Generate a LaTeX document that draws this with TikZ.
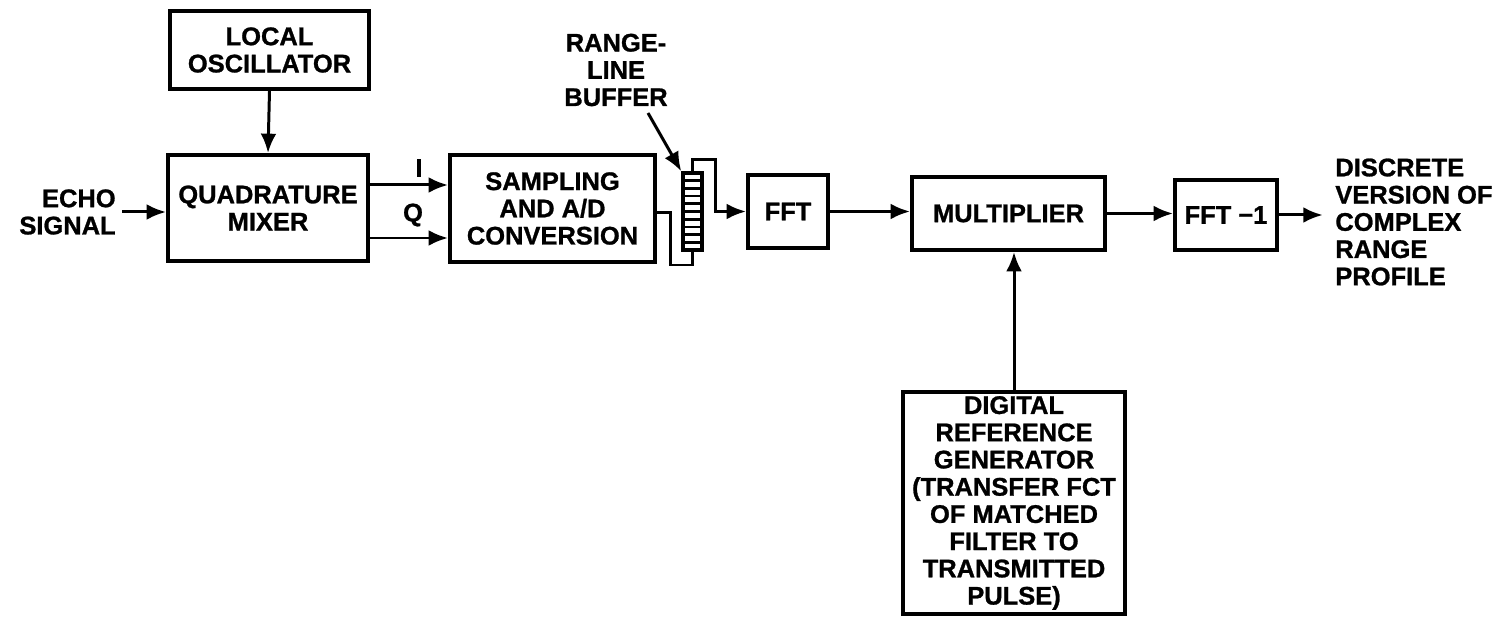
\documentclass[tikz,border=0pt]{standalone}
\usepackage{fontspec}
\newfontfamily\blkfont[FakeBold=1]{Liberation Sans Bold}
\usepackage{tikz}
\usetikzlibrary{arrows.meta}
\usetikzlibrary{positioning}
\newcommand{\blktext}{\blkfont\fontsize{14.5}{15.5}\selectfont}

\tikzset{
  blk/.style={draw, rectangle, line width=2.3pt, inner sep=0pt, align=center, font=\blktext},
  lbl/.style={inner sep=0pt, font=\blktext},
  arr/.style={->, line width=1.7pt},
  wire/.style={line width=1.7pt},
}

\begin{document}
\begin{tikzpicture}[x=0.02cm,y=-0.02cm]
		\tikzset{>={Latex[length=11pt,width=9pt]}}
		\useasboundingbox (0,0) rectangle (1505,617);
		
		\node[blk,minimum width=3.98cm,minimum height=1.56cm] (lo) at (269.5,50) {LOCAL\\OSCILLATOR};
		\node[blk,minimum width=4cm,minimum height=2.12cm] (qm) at (268,208) {QUADRATURE\\MIXER};
		\node[blk,minimum width=4.1cm,minimum height=2.14cm] (sad) at (552.5,208.5) {SAMPLING\\AND A/D\\CONVERSION};
		\node[draw,line width=2pt,fill=white,minimum width=0.38cm,minimum height=1.54cm,inner sep=0pt] (buffer) at (692.5,211.5) {};
		\node[blk,minimum width=1.6cm,minimum height=1.46cm] (fft) at (788,211.5) {FFT};
		\node[blk,minimum width=3.86cm,minimum height=1.46cm] (mult) at (1008.5,213.5) {MULTIPLIER};
		\node[blk,minimum width=2.04cm,minimum height=1.4cm] (ifft) at (1226,215) {FFT −1};
		\node[blk,minimum width=4.44cm,minimum height=4.44cm] (drg) at (1014,503) {DIGITAL\\REFERENCE\\GENERATOR\\(TRANSFER FCT\\OF MATCHED\\FILTER TO\\TRANSMITTED\\PULSE)};
		
		\node[lbl,align=right,anchor=east] (echo) at (116,212) {ECHO\\SIGNAL};
		\node[lbl,align=left,anchor=west] (out) at (1335,222) {DISCRETE\\VERSION OF\\COMPLEX\\RANGE\\PROFILE};
		\node[lbl,align=center] (rlb) at (616,70) {RANGE-\\LINE\\BUFFER};
		\node[lbl] (ilab) at (419,168) {I};
		\node[lbl] (qlab) at (413,215) {Q};
		\coordinate (ptr) at (648,113);
		
		\foreach \k in {1,...,9}
			\draw[line width=1.5pt] (685,{173+\k*7.7}) -- (700,{173+\k*7.7});
		
		\draw[arr] (lo.south) -- (qm.north);
		\draw[arr] (echo.east) ++(6,0) -- (echo.east -| qm.west);
		\draw[arr] (qm.east |- 0,185) -- (sad.west |- 0,185);
		\draw[arr] (qm.east |- 0,238) -- (sad.west |- 0,238);
		\draw[wire] (sad.east |- 0,213) -| (670,265) -| (buffer.south);
		\draw[arr] (buffer.north) |- (715,160) |- (fft.west);
		\draw[arr] (ptr) -- (buffer.north west);
		\draw[arr] (fft.east) -- (fft.east -| mult.west);
		\draw[arr] (mult.east) -- (mult.east -| ifft.west);
		\draw[arr,shorten >=7pt] (ifft.east) -- (ifft.east -| out.west);
		\draw[arr] (drg.north) -- (drg.north |- mult.south);
		
\end{tikzpicture}
\end{document}
